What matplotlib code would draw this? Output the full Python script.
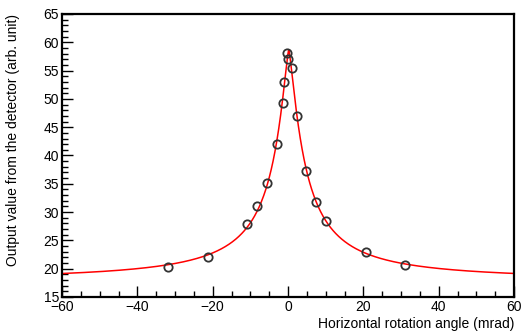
import numpy as np
import matplotlib
matplotlib.use("Agg")
import matplotlib.pyplot as plt
from matplotlib.ticker import MultipleLocator

# measured points (angle in mrad, detector output)
angle = [-31.9, -21.2, -10.9, -8.1, -5.6, -3.0, -1.3, -1.0, -0.3, 0.1, 1.0,
         2.3, 4.8, 7.4, 10.1, 20.7, 31.1]
output = [20.3, 22.1, 27.9, 31.0, 35.1, 42.0, 49.3, 53.0, 58.1, 57.0, 55.5,
          47.0, 37.3, 31.7, 28.5, 22.9, 20.7]


def peak(x, x0, g, p):
    return 1.0 / (1.0 + np.abs((x - x0) / g) ** p)


# fit the red curve: baseline + amplitude * generalised Lorentzian (grid search, linear b/A)
xa, ya = np.array(angle), np.array(output)
best = None
for x0 in np.arange(-0.5, 1.01, 0.1):
    for g in np.arange(2.0, 9.01, 0.1):
        for p in np.arange(1.0, 2.21, 0.05):
            M = np.column_stack([np.ones_like(xa), peak(xa, x0, g, p)])
            coef, res, *_ = np.linalg.lstsq(M, ya, rcond=None)
            err = np.sum((M @ coef - ya) ** 2)
            if best is None or err < best[0]:
                best = (err, x0, g, p, coef)
_, x0, g, p, (base, amp) = best

plt.rcParams["font.family"] = ["Liberation Sans", "DejaVu Sans"]
fig = plt.figure(figsize=(5.21, 3.31), dpi=100)
ax = fig.add_axes([62 / 521, 1 - 297 / 331, 452 / 521, 283 / 331])

xs = np.linspace(-60, 60, 1200)
ax.plot(xs, base + amp * peak(xs, x0, g, p), color="#ff0000", lw=1.1, zorder=2)
ax.plot(angle, output, "o", mfc="none", mec="#333333", mew=1.3, ms=6, zorder=3)

ax.set_xlim(-60, 60)
ax.set_ylim(15, 65)
ax.xaxis.set_major_locator(MultipleLocator(20))
ax.xaxis.set_minor_locator(MultipleLocator(5))
ax.yaxis.set_major_locator(MultipleLocator(5))
ax.yaxis.set_minor_locator(MultipleLocator(1))
ax.tick_params(which="both", direction="in", top=False, right=False, labelsize=10, pad=2)
ax.tick_params(which="major", length=8, width=1)
ax.tick_params(which="minor", length=4, width=1)
for s in ax.spines.values():
    s.set_linewidth(1.6)

ax.set_xlabel("Horizontal rotation angle (mrad)", fontsize=10, ha="right", x=1.0, labelpad=2)
ax.set_ylabel("Output value from the detector (arb. unit)", fontsize=10, ha="right", y=1.0, labelpad=17)

fig.savefig("out.png", dpi=100)
